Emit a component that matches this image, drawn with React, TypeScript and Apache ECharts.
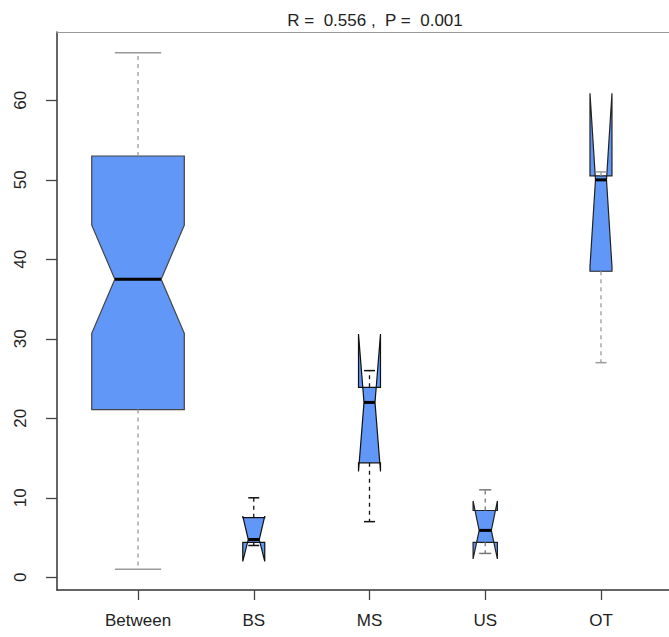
import React, { useEffect, useRef } from "react";
import * as echarts from "echarts";

// ---- data ----
const categories = ["Between", "BS", "MS", "US", "OT"];
const whiskerLow = [1, 4.0, 7, 3, 27];
const lowerHinge = [21.1, 4.4, 14.4, 4.4, 38.5];
const medians = [37.5, 4.75, 22, 5.9, 50];
const upperHinge = [53, 7.5, 23.9, 8.4, 50.5];
const whiskerHigh = [66, 10, 26, 11, 51];
const notchLow = [30.7, 2.0, 13.3, 2.3, 39.1];
const notchHigh = [44.3, 7.7, 30.6, 9.6, 60.9];
const yTicks = [0, 10, 20, 30, 40, 50, 60];
const xTicks = [1, 2, 3, 4, 5];
const titleText = "R =  0.556 ,  P =  0.001";

// ---- styles ----
const BOX_WIDTH = [0.8, 0.19, 0.19, 0.21, 0.19];
const WHISKER_COLOR = ["#9a9a9a", "#111111", "#111111", "#777777", "#9a9a9a"];
const BORDER_COLOR = ["#444444", "#111111", "#111111", "#222222", "#222222"];
const FILL = "#6197F7";
const FONT = "Liberation Sans, Arial, Helvetica, sans-serif";

export default function App() {
  const ref = useRef<HTMLDivElement>(null);

  useEffect(() => {
    if (!ref.current) return;
    const chart = echarts.init(ref.current, undefined, { renderer: "svg" });

    const data = categories.map((_, i) => [
      xTicks[i],
      whiskerLow[i],
      lowerHinge[i],
      medians[i],
      upperHinge[i],
      whiskerHigh[i],
      notchLow[i],
      notchHigh[i],
      i,
    ]);

    const renderItem = (params: any, api: any) => {
      const x = api.value(0);
      const idx = api.value(8);
      const cx = api.coord([x, 0])[0];
      const hw = api.size([BOX_WIDTH[idx], 0])[0] / 2;
      const Y = (v: number) => api.coord([x, v])[1];
      const yMin = Y(api.value(1));
      const yQ1 = Y(api.value(2));
      const yMed = Y(api.value(3));
      const yQ3 = Y(api.value(4));
      const yMax = Y(api.value(5));
      const yNlo = Y(api.value(6));
      const yNhi = Y(api.value(7));
      const L = cx - hw;
      const R = cx + hw;
      const Lm = cx - hw / 2;
      const Rm = cx + hw / 2;
      const wc = WHISKER_COLOR[idx];
      return {
        type: "group",
        children: [
          {
            type: "polygon",
            shape: {
              points: [
                [L, yQ1],
                [L, yNlo],
                [Lm, yMed],
                [L, yNhi],
                [L, yQ3],
                [R, yQ3],
                [R, yNhi],
                [Rm, yMed],
                [R, yNlo],
                [R, yQ1],
              ],
            },
            style: { fill: FILL, stroke: BORDER_COLOR[idx], lineWidth: 1.2 },
          },
          {
            type: "line",
            shape: { x1: cx, y1: yQ3, x2: cx, y2: yMax },
            style: { stroke: wc, lineWidth: 1.3, lineDash: [4, 4] },
          },
          {
            type: "line",
            shape: { x1: cx, y1: yQ1, x2: cx, y2: yMin },
            style: { stroke: wc, lineWidth: 1.3, lineDash: [4, 4] },
          },
          {
            type: "line",
            shape: { x1: Lm, y1: yMax, x2: Rm, y2: yMax },
            style: { stroke: wc, lineWidth: 1.5 },
          },
          {
            type: "line",
            shape: { x1: Lm, y1: yMin, x2: Rm, y2: yMin },
            style: { stroke: wc, lineWidth: 1.5 },
          },
          {
            type: "line",
            shape: { x1: Lm, y1: yMed, x2: Rm, y2: yMed },
            style: { stroke: "#000", lineWidth: 3 },
          },
        ],
      };
    };

    chart.setOption({
      animation: false,
      title: {
        text: titleText,
        left: 370,
        top: 7,
        textAlign: "center",
        textStyle: { fontFamily: FONT, fontSize: 17, fontWeight: "normal", color: "#222" },
      },
      grid: {
        left: 57,
        top: 32,
        width: 625,
        height: 558,
        containLabel: false,
        outerBoundsMode: "none",
        show: false,
      },
      xAxis: [
        {
          type: "value",
          min: 0.3,
          max: 5.7,
          position: "bottom",
          axisLine: { show: true, onZero: false, lineStyle: { color: "#333", width: 1.5 } },
          axisTick: { show: true, length: 10, customValues: xTicks, lineStyle: { color: "#444", width: 1.3 } },
          axisLabel: {
            customValues: xTicks,
            formatter: (v: number) => categories[Math.round(v) - 1] ?? "",
            margin: 22,
            fontSize: 17,
            fontFamily: FONT,
            color: "#222",
          },
          splitLine: { show: false },
        },
        {
          type: "value",
          min: 0.3,
          max: 5.7,
          position: "top",
          axisLine: { show: true, onZero: false, lineStyle: { color: "#999", width: 1.2 } },
          axisTick: { show: false },
          axisLabel: { show: false },
          splitLine: { show: false },
        },
      ],
      yAxis: {
        type: "value",
        min: -1.6,
        max: 68.6,
        axisLine: { show: true, onZero: false, lineStyle: { color: "#333", width: 1.5 } },
        axisTick: { show: true, length: 11, customValues: yTicks, lineStyle: { color: "#444", width: 1.3 } },
        axisLabel: {
          customValues: yTicks,
          rotate: 90,
          margin: 28,
          fontSize: 17,
          fontFamily: FONT,
          color: "#222",
        },
        splitLine: { show: false },
      },
      series: [
        {
          type: "custom",
          renderItem,
          data,
          xAxisIndex: 0,
          encode: { x: 0, y: [1, 2, 3, 4, 5, 6, 7] },
          clip: false,
        },
      ],
    });

    return () => chart.dispose();
  }, []);

  return (
    <div
      ref={ref}
      style={{ position: "absolute", left: 0, top: 0, width: 669, height: 637, background: "#fff" }}
    />
  );
}
